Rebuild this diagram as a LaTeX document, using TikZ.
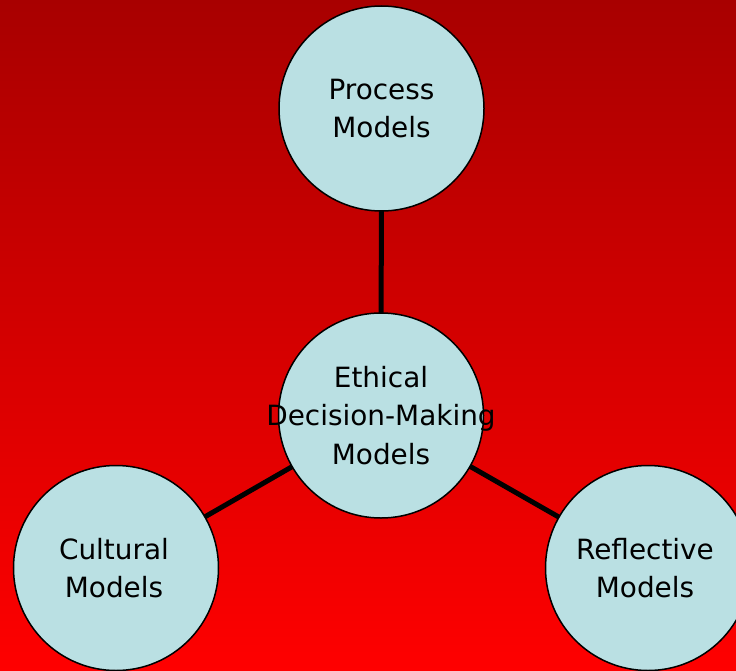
\documentclass[tikz,border=0pt]{standalone}
\usepackage{fontspec}
\setmainfont{DejaVu Sans}
\usetikzlibrary{backgrounds}
\definecolor{bgtop}{HTML}{A80000}
\definecolor{bgbottom}{HTML}{FF0000}
\definecolor{bubble}{HTML}{BAE0E3}
\begin{document}
\begin{tikzpicture}[x=1bp,y=-1bp,
  bubblenode/.style={circle,draw=black,line width=1.5bp,fill=bubble,
    minimum size=205bp,inner sep=0pt},
  caption/.style={align=center,text=black,inner sep=0pt,
    font=\fontsize{28}{38.5}\selectfont},
  link/.style={line width=5bp,draw=black}]
  \useasboundingbox (0,0) rectangle (736,671);
  \clip (0,0) rectangle (736,671);

  % model bubbles
  \node[bubblenode] (proc) at (381.5,108.5) {};
  \node[bubblenode] (core) at (381,415.5) {};
  \node[bubblenode] (cult) at (116,568) {};
  \node[bubblenode] (refl) at (648,568) {};

  \node[caption] (proct) at (proc.center) {Process\\Models};
  \node[caption] (coret) at (core.center) {Ethical\\Decision-Making\\Models};
  \node[caption] (cultt) at ([xshift=-2bp]cult.center) {Cultural\\Models};
  \node[caption] (reflt) at ([xshift=-3bp]refl.center) {Reflective\\Models};

  \begin{scope}[on background layer]
    \shade[top color=bgtop,bottom color=bgbottom] (0,0) rectangle (736,671);
    \draw[link] (core.center) -- (proc.center);
    \draw[link] (core.center) -- (cult.center);
    \draw[link] (core.center) -- (refl.center);
  \end{scope}
\end{tikzpicture}
\end{document}
